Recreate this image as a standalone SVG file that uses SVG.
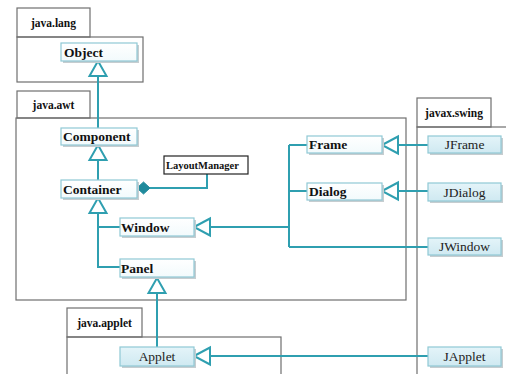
<svg xmlns="http://www.w3.org/2000/svg" width="506" height="374" viewBox="0 0 506 374">
<defs>
<linearGradient id="gw" x1="0" y1="0" x2="0" y2="1"><stop offset="0" stop-color="#ffffff"/><stop offset="1" stop-color="#f2fafc"/></linearGradient>
<linearGradient id="gb" x1="0" y1="0" x2="0" y2="1"><stop offset="0" stop-color="#e4f4f9"/><stop offset="1" stop-color="#cfe9f1"/></linearGradient>
</defs>
<style>
text{font-family:"Liberation Serif","Times New Roman","DejaVu Serif",serif}
.pkg{fill:none;stroke:#6f6f6f;stroke-width:1.2}
.pl{font-weight:bold;font-size:11.5px;fill:#111}
.cls{fill:url(#gw);stroke:#8fc9d5;stroke-width:1.2}
.jcls{fill:url(#gb);stroke:#8fc9d5;stroke-width:1.2}
.sh{fill:#c6cdd0}
.ct{font-weight:bold;font-size:13.5px;fill:#111}
.jt{font-size:13.5px;fill:#222;text-anchor:middle}
.ln{fill:none;stroke:#2f9fb0;stroke-width:2}
.tri{fill:#fff;stroke:#2f9fb0;stroke-width:2;stroke-linejoin:miter}
</style>
<rect width="506" height="374" fill="#fff"/>
<g id="packages">
<rect class="pkg" x="17" y="8" width="73" height="29"/>
<rect class="pkg" x="17" y="37" width="126" height="45"/>
<text class="pl" x="53.5" y="27" text-anchor="middle">java.lang</text>
<rect class="pkg" x="17" y="91" width="73" height="27"/>
<rect class="pkg" x="16" y="118" width="390" height="182"/>
<text class="pl" x="53.5" y="109" text-anchor="middle">java.awt</text>
<rect class="pkg" x="67" y="308" width="75" height="29"/>
<rect class="pkg" x="67" y="337" width="214" height="50"/>
<text class="pl" x="104.5" y="327" text-anchor="middle">java.applet</text>
<rect class="pkg" x="417" y="98" width="74" height="29"/>
<rect class="pkg" x="417" y="127" width="110" height="260"/>
<text class="pl" x="454" y="117" text-anchor="middle">javax.swing</text>
</g>
<g id="connectors">
<path class="ln" d="M98 76V128M98 160V180M98 213V267H120M98 227H120"/>
<path class="ln" d="M157 293V347"/>
<path class="ln" d="M207 174V188H150"/>
<path d="M137 188L143.5 182L150 188L143.5 194Z" fill="#1f8a9c" stroke="#1f8a9c" stroke-width="1"/>
<path class="ln" d="M210 227H289M289 145V247M289 145H307M289 191H307M289 247H428"/>
<path class="ln" d="M398 145H428M398 191H428M210 356H428"/>
<path class="tri" d="M98 61L106.5 76H89.5Z"/>
<path class="tri" d="M98 145L106.5 160H89.5Z"/>
<path class="tri" d="M98 198L106.5 213H89.5Z"/>
<path class="tri" d="M157 278L165.5 293H148.5Z"/>
<path class="tri" d="M194 227L210 218.5V235.5Z"/>
<path class="tri" d="M194 356L210 347.5V364.5Z"/>
<path class="tri" d="M382 145L398 136.5V153.5Z"/>
<path class="tri" d="M382 191L398 182.5V199.5Z"/>
</g>
<g id="Object"><rect class="sh" x="63" y="45" width="76" height="18"/><rect class="cls" x="61" y="43" width="76" height="18"/><text class="ct" x="64" y="57">Object</text></g>
<g id="Component"><rect class="sh" x="63" y="130" width="76" height="17"/><rect class="cls" x="61" y="128" width="76" height="17"/><text class="ct" x="63" y="141">Component</text></g>
<g id="Container"><rect class="sh" x="63" y="182" width="76" height="18"/><rect class="cls" x="61" y="180" width="76" height="18"/><text class="ct" x="63" y="193.5">Container</text></g>
<g id="LayoutManager"><rect x="164" y="156" width="84" height="18" fill="#fff" stroke="#222" stroke-width="1.2"/><text x="166" y="168.5" font-weight="bold" font-size="10.5" fill="#111">LayoutManager</text></g>
<g id="Window"><rect class="sh" x="122" y="220" width="74" height="18"/><rect class="cls" x="120" y="218" width="74" height="18"/><text class="ct" x="121" y="231.5">Window</text></g>
<g id="Panel"><rect class="sh" x="122" y="261" width="74" height="18"/><rect class="cls" x="120" y="259" width="74" height="18"/><text class="ct" x="121" y="272.5">Panel</text></g>
<g id="Frame"><rect class="sh" x="309" y="138" width="75" height="17"/><rect class="cls" x="307" y="136" width="75" height="17"/><text class="ct" x="309" y="149">Frame</text></g>
<g id="Dialog"><rect class="sh" x="309" y="185" width="75" height="17"/><rect class="cls" x="307" y="183" width="75" height="17"/><text class="ct" x="309" y="196">Dialog</text></g>
<g id="Applet"><rect class="sh" x="122" y="349" width="74" height="19"/><rect class="jcls" x="120" y="347" width="74" height="19"/><text class="jt" x="157" y="361">Applet</text></g>
<g id="JFrame"><rect class="sh" x="430" y="138" width="73" height="17"/><rect class="jcls" x="428" y="136" width="73" height="17"/><text class="jt" x="464.5" y="149">JFrame</text></g>
<g id="JDialog"><rect class="sh" x="430" y="185" width="73" height="18"/><rect class="jcls" x="428" y="183" width="73" height="18"/><text class="jt" x="464.5" y="196.5">JDialog</text></g>
<g id="JWindow"><rect class="sh" x="430" y="240" width="73" height="17"/><rect class="jcls" x="428" y="238" width="73" height="17"/><text class="jt" x="464.5" y="251">JWindow</text></g>
<g id="JApplet"><rect class="sh" x="430" y="349" width="73" height="19"/><rect class="jcls" x="428" y="347" width="73" height="19"/><text class="jt" x="464.5" y="361">JApplet</text></g>
</svg>
